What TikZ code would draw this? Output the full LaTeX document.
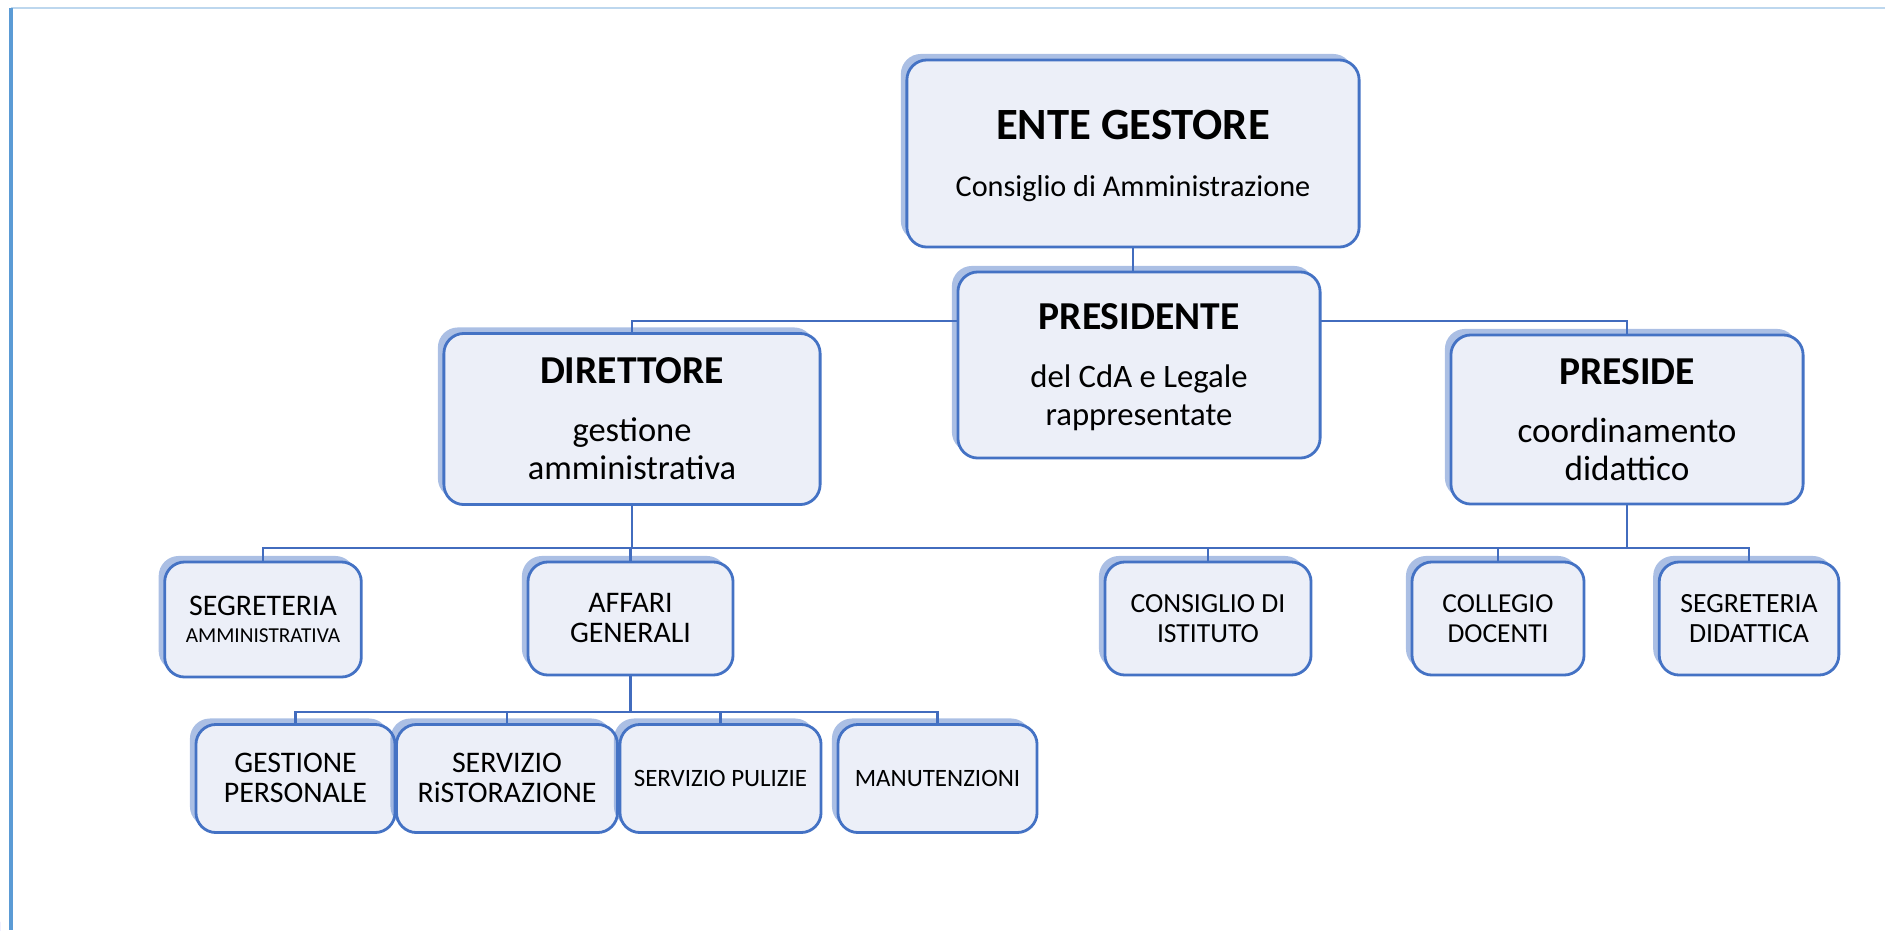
\documentclass[tikz,border=0pt]{standalone}
\usepackage{fontspec}
\setmainfont{Carlito}
\usepackage{tikz}
\usetikzlibrary{positioning,backgrounds,calc,shadows}
\definecolor{bordo}{RGB}{68,114,196}
\definecolor{fondo}{RGB}{236,239,248}
\definecolor{linea}{RGB}{66,108,190}
\definecolor{cornice}{RGB}{91,155,213}
\definecolor{cornicetop}{RGB}{189,215,238}
\newcommand{\titolo}[2][11.25]{\rule{0pt}{10.5pt}{\fontsize{#1}{13}\selectfont\bfseries #2}}
\newcommand{\testo}[2][10]{{\fontsize{#1}{12}\selectfont #2}}
\newcommand{\piccolo}[1]{\fontsize{#1}{9.5}\selectfont}
\newcommand{\su}{\rule{0pt}{7.8pt}}
\renewcommand{\arraystretch}{0.9}

\begin{document}
\begin{tikzpicture}[x=0.01cm, y=-0.01cm, semithick,
   organo/.style={draw=bordo, line width=0.8pt, fill=fondo, rounded corners=2mm, inner sep=0pt,
      drop shadow={shadow xshift=-0.6mm, shadow yshift=0.6mm, fill=bordo, opacity=0.45}},
   ufficio/.style={organo, font=\piccolo{8.5}},
   conn/.style={draw=linea, line width=0.7pt}]
   \useasboundingbox (0, 0) rectangle (1885, 930);
   \draw[cornicetop, line width=0.4pt] (11, 8) -- (1885, 8);
   \draw[cornice, line width=0.9pt] (11, 8) -- (11, 930);
   \node[anchor=north east, inner sep=0pt, text=blue, font=\sffamily\bfseries\fontsize{14}{16}\selectfont] (pagina) at (8, 919) {4};
   % vertice
   \node[organo, minimum width=4.52cm, minimum height=1.87cm] (ente) at (1133, 153.5) {\begin{tabular}{c} \rule{0pt}{11.4pt}\titolo[12.7]{ENTE GESTORE}\\[5.4pt] \testo[8.6]{Consiglio di Amministrazione} \end{tabular}};
   \node[organo, minimum width=3.62cm, minimum height=1.86cm] (pres) at (1139, 365) {\begin{tabular}{c} \titolo{PRESIDENTE}\\[5.7pt] \testo[9.3]{del CdA e Legale}\\ \testo[9.3]{rappresentate} \end{tabular}};
   \node[organo, minimum width=3.76cm, minimum height=1.71cm] (dir) at (632, 419) {\begin{tabular}{c} \titolo{DIRETTORE}\\[5.7pt] \testo[9.8]{gestione}\\ \testo[9.8]{amministrativa} \end{tabular}};
   \node[organo, minimum width=3.52cm, minimum height=1.69cm] (prs) at (1627, 419.5) {\begin{tabular}{c} \titolo{PRESIDE}\\[5.7pt] \testo{coordinamento}\\ \testo{didattico} \end{tabular}};
   % uffici
   \node[ufficio, minimum width=1.96cm, minimum height=1.15cm] (segamm) at (263, 619.5) {\begin{tabular}{c} \rule{0pt}{8pt}SEGRETERIA\\[-1pt] {\fontsize{6.05}{8}\selectfont AMMINISTRATIVA} \end{tabular}};
   \node[ufficio, minimum width=2.05cm, minimum height=1.13cm] (affari) at (630.5, 618.5) {\begin{tabular}{c} \su AFFARI\\ GENERALI \end{tabular}};
   \node[ufficio, font=\piccolo{7.85}, minimum width=2.06cm, minimum height=1.13cm] (consiglio) at (1208, 618.5) {\begin{tabular}{c} \su CONSIGLIO DI\\ ISTITUTO \end{tabular}};
   \node[ufficio, font=\piccolo{7.8}, minimum width=1.72cm, minimum height=1.13cm] (collegio) at (1498, 618.5) {\begin{tabular}{c} \su COLLEGIO\\ DOCENTI \end{tabular}};
   \node[ufficio, font=\piccolo{7.9}, minimum width=1.78cm, minimum height=1.13cm] (segdid) at (1749, 618.5) {\begin{tabular}{c} \su SEGRETERIA\\ DIDATTICA \end{tabular}};
   \node[ufficio, minimum width=1.99cm, minimum height=1.08cm] (gest) at (295.5, 778.5) {\begin{tabular}{c} \su GESTIONE\\ PERSONALE \end{tabular}};
   \node[ufficio, minimum width=2.00cm, minimum height=1.08cm] (rist) at (507, 778.5) {\begin{tabular}{c} \su SERVIZIO\\ RiSTORAZIONE \end{tabular}};
   \node[ufficio, font=\piccolo{7.1}, minimum width=2.01cm, minimum height=1.08cm] (puliz) at (720.5, 778.5) {SERVIZIO PULIZIE};
   \node[ufficio, font=\piccolo{7.1}, minimum width=1.99cm, minimum height=1.08cm] (manut) at (937.5, 778.5) {MANUTENZIONI};
   \coordinate (alto) at (0, 321);
   \coordinate (medio) at (0, 548);
   \coordinate (basso) at (0, 712);
   % collegamenti
   \begin{scope}[on background layer]
   \draw[conn] (ente.south) -- (ente.south |- alto);
   \draw[conn] (dir.north) |- (prs.north |- alto) -- (prs.north);
   \draw[conn] (dir.south) -- (dir.south |- medio);
   \draw[conn] (prs.south) -- (prs.south |- medio);
   \draw[conn] (segamm.north) |- (segdid.north |- medio) -- (segdid.north);
   \draw[conn] (affari.north) -- (affari.north |- medio);
   \draw[conn] (consiglio.north) -- (consiglio.north |- medio);
   \draw[conn] (collegio.north) -- (collegio.north |- medio);
   \draw[conn] (affari.south) -- (affari.south |- basso);
   \draw[conn] (gest.north) |- (manut.north |- basso) -- (manut.north);
   \draw[conn] (rist.north) -- (rist.north |- basso);
   \draw[conn] (puliz.north) -- (puliz.north |- basso);
   \end{scope}
\end{tikzpicture}
\end{document}
